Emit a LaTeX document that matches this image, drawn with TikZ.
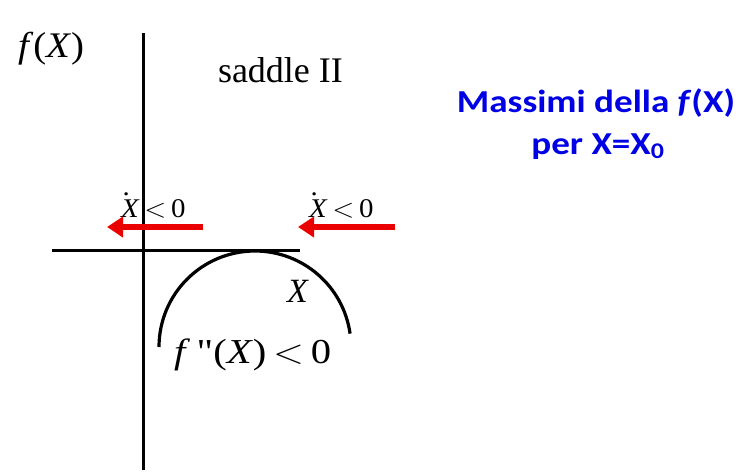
\documentclass[tikz,border=0pt]{standalone}
\usepackage{fix-cm}
\usepackage{fontspec}
\setmainfont{Liberation Serif}
\newfontfamily\rawserif{Liberation Serif}[Ligatures=ResetAll]
\newfontfamily\calfont{Carlito}
\usetikzlibrary{arrows.meta}
\newcommand{\fsz}[1]{\fontsize{#1}{#1}\selectfont}
\newcommand{\dotX}{\makebox[0pt][l]{\hspace{0.06em}\raisebox{0.8em}{.}}\textit{X}}
\tikzset{
  axis/.style={line width=3pt, black},
  curve/.style={line width=3.2pt, black},
  redarrow/.style={line width=6pt, red!92!black, -{Triangle[length=16pt,width=20pt]}},
  lbl/.style={anchor=base west, inner sep=0pt, outer sep=0pt},
  bluetxt/.style={anchor=base, inner sep=0pt, text=blue!90!black, font=\calfont\bfseries\fsz{32}, xscale=1.16}
}
\begin{document}
\begin{tikzpicture}[x=1pt,y=1pt]
\useasboundingbox (0,0) rectangle (754,-475);
% axes
\coordinate (vtop) at (143,-33);
\coordinate (vbot) at (143,-470);
\coordinate (hl) at (52,-250);
\coordinate (hr) at (300,-250);
\draw[axis] (vtop) -- (vbot);
\draw[axis] (hl) -- (hr);
% curve
\coordinate (arcL) at (159,-347);
\draw[curve] (arcL) arc[start angle=180, end angle=8, radius=96];
% labels
\node[lbl, font=\fsz{36}, xscale=1.08] (fx) at (18,-57) {\textit{f}(\textit{X})};
\node[lbl, font=\fsz{36}] (saddle) at (218,-82) {saddle II};
\node[lbl, font=\fsz{27}, xscale=1.07] (xd1) at (121,-217) {\dotX\,$<$\,0};
\node[lbl, font=\fsz{27}, xscale=1.07] (xd2) at (309,-217) {\dotX\,$<$\,0};
\node[lbl, font=\fsz{34}] (xl) at (287,-302) {\textit{X}};
\node[lbl, font=\fsz{35}, xscale=1.16] (fpp) at (174,-363) {\textit{f}\,{\rawserif\symbol{34}}(\textit{X})\,$<$\,0};
% red arrows
\coordinate (a1s) at (203,-227);
\coordinate (a1e) at (107,-227);
\coordinate (a2s) at (395,-227);
\coordinate (a2e) at (298,-227);
\draw[redarrow] (a1s) -- (a1e);
\draw[redarrow] (a2s) -- (a2e);
% blue text
\node[bluetxt] (t1) at (596,-112) {Massimi della \textit{f}(X)};
\node[bluetxt] (t2) at (598,-154) {per X=X\textsubscript{0}};
\end{tikzpicture}
\end{document}
